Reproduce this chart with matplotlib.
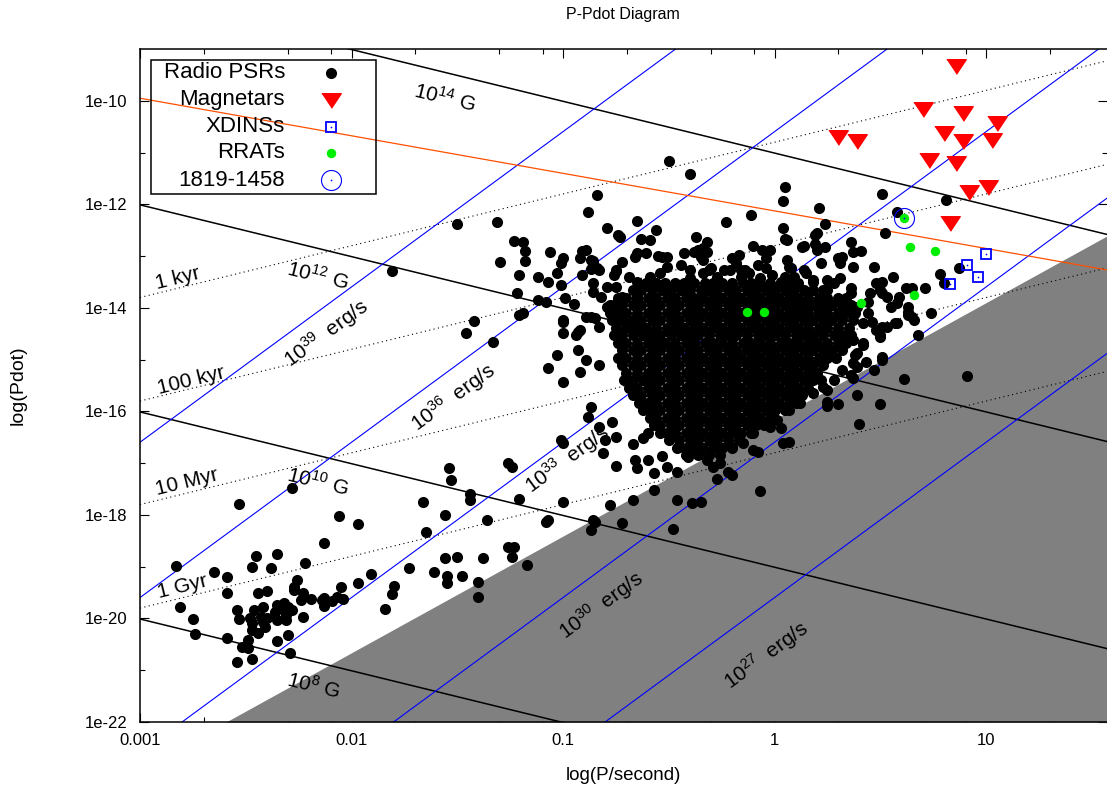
import numpy as np
import matplotlib
matplotlib.use("Agg")
import matplotlib.pyplot as plt
from matplotlib.ticker import FixedLocator, FixedFormatter, LogLocator, NullFormatter
from matplotlib.patches import Rectangle
from matplotlib.lines import Line2D

plt.rcParams['font.family'] = ['Liberation Sans', 'DejaVu Sans']
plt.rcParams['mathtext.fontset'] = 'custom'
plt.rcParams['mathtext.rm'] = 'Liberation Sans'
plt.rcParams['mathtext.it'] = 'Liberation Sans:italic'

# ---- axes range ----
P_MIN, P_MAX = 1e-3, 37.3
PDOT_MIN, PDOT_MAX = 1e-22, 1e-9

xtick_vals = [1e-3, 1e-2, 1e-1, 1, 10]
xtick_text = ['0.001', '0.01', '0.1', '1', '10']
ytick_vals = [1e-22, 1e-20, 1e-18, 1e-16, 1e-14, 1e-12, 1e-10]
ytick_text = ['1e-22', '1e-20', '1e-18', '1e-16', '1e-14', '1e-12', '1e-10']

# ---- reference lines ----
bfield_gauss = [1e8, 1e10, 1e12, 1e14]
bfield_text = [r'$10^{8}$ G', r'$10^{10}$ G', r'$10^{12}$ G', r'$10^{14}$ G']
bfield_lab_pos = [(-2.18, -21.29), (-2.16, -17.35), (-2.16, -13.37), (-1.56, -9.93)]

age_years = [1e3, 1e5, 1e7, 1e9]
age_text = ['1 kyr', '100 kyr', '10 Myr', '1 Gyr']
age_lab_pos = [(-2.82, -13.43), (-2.76, -15.40), (-2.78, -17.37), (-2.80, -19.38)]

edot_ergs = [1e27, 1e30, 1e33, 1e36, 1e39]
edot_text = [r'$10^{27}$  erg/s', r'$10^{30}$  erg/s', r'$10^{33}$  erg/s',
             r'$10^{36}$  erg/s', r'$10^{39}$  erg/s']
edot_lab_pos = [(-0.04, -20.71), (-0.82, -19.74), (-0.98, -16.92), (-1.52, -15.72), (-2.12, -14.49)]

orange_p = [1e-3, 37.3]
orange_pdot = [1.12e-10, 5.4e-14]

death_p = [2.55e-3, 37.3]
death_pdot = [1e-22, 2.45e-13]

# ---- sources (log10 P, log10 Pdot) ----
magnetars = [(0.86, -9.33), (0.70, -10.16), (0.89, -10.24), (1.05, -10.43), (0.80, -10.62),
             (0.89, -10.78), (1.03, -10.76), (0.30, -10.70), (0.39, -10.78), (0.73, -11.14),
             (0.86, -11.20), (0.92, -11.76), (1.01, -11.67), (0.83, -12.36)]
xdins = [(1.00, -12.96), (0.91, -13.17), (0.96, -13.41), (0.83, -13.54)]
rrats = [(0.61, -12.27), (0.64, -12.83), (0.76, -12.90), (0.66, -13.75), (0.41, -13.91),
         (-0.13, -14.08), (-0.05, -14.08)]
j1819 = (0.61, -12.27)

psr_sparse = [
    (-1.50, -12.38), (-1.31, -12.34), (-1.23, -12.71), (-1.30, -13.12), (-1.81, -13.29), (-1.21, -13.37),
    (-1.22, -13.72), (-0.50, -11.16), (-0.40, -11.42), (-0.84, -11.82), (-0.88, -12.15), (-0.79, -12.46),
    (-0.74, -12.59), (-0.73, -12.63), (-0.65, -12.32), (-0.63, -12.67), (-0.59, -12.69), (-0.56, -12.50),
    (-0.37, -12.63), (-0.32, -12.73), (0.05, -11.67), (0.04, -11.94), (-0.23, -12.34), (-0.11, -12.21),
    (0.21, -12.07), (0.24, -12.38), (0.04, -12.46), (0.06, -12.69), (0.51, -11.80), (0.58, -12.15),
    (0.52, -12.56), (0.81, -11.92), (0.20, -12.56), (0.19, -12.77), (0.24, -12.83), (0.14, -12.81),
    (0.36, -12.73), (0.37, -12.92), (0.41, -12.90), (-0.10, -12.81), (-0.06, -12.88), (-0.02, -12.88),
    (-0.04, -13.04), (-1.19, -12.73), (-1.18, -12.90), (-1.18, -13.10), (-1.06, -12.92), (-0.91, -12.90),
    (-0.89, -12.88), (-0.92, -13.04), (-0.86, -13.10), (-1.00, -13.04), (-1.01, -13.14), (-1.03, -13.33),
    (-1.12, -13.41), (-1.07, -13.50), (-1.01, -13.56), (-0.87, -13.25), (-0.83, -13.27), (-0.75, -13.27),
    (-0.72, -13.12), (-0.66, -13.02), (-0.61, -12.94), (-0.53, -13.02), (-0.43, -12.94), (-0.38, -12.92),
    (-0.34, -12.85), (-0.35, -13.02), (-0.31, -13.27), (-0.20, -13.04), (-0.16, -13.27), (-0.24, -13.27),
    (0.07, -13.21), (0.14, -13.27), (0.18, -13.46), (0.22, -13.14), (0.31, -13.08), (0.37, -13.21),
    (0.47, -13.21), (0.56, -13.41), (0.31, -13.43), (0.25, -13.46), (0.48, -13.52), (0.51, -13.72),
    (0.05, -12.67), (0.13, -12.83), (0.19, -12.59), (0.20, -12.88), (0.06, -13.08), (0.15, -13.33),
    (0.30, -13.04), (0.32, -13.02), (0.31, -13.14), (0.18, -13.50), (0.05, -13.41), (0.09, -13.60),
    (0.25, -13.66), (0.28, -13.52), (0.36, -13.62), (0.51, -13.50), (0.50, -13.66), (0.53, -13.79),
    (0.45, -13.72), (0.44, -13.89), (0.59, -13.79), (0.62, -13.62), (0.65, -13.62), (0.71, -13.62),
    (0.58, -13.91), (0.55, -13.99), (0.63, -13.99), (0.78, -13.35), (0.80, -13.52), (0.87, -13.23),
    (0.36, -13.72), (0.39, -13.99), (0.44, -14.10), (0.46, -14.28), (0.53, -14.37), (0.58, -14.29),
    (0.63, -14.08), (0.65, -14.18), (0.74, -14.10), (0.68, -14.53), (0.50, -14.53), (0.32, -14.10),
    (0.20, -13.99), (0.12, -13.99), (0.51, -14.37), (0.51, -14.95), (0.66, -14.24), (0.51, -15.01),
    (0.47, -15.20), (0.43, -15.05), (0.39, -15.15), (0.37, -15.36), (0.61, -15.38), (0.91, -15.32),
    (0.39, -15.69), (0.50, -15.86), (0.40, -16.25), (0.48, -14.43), (0.50, -14.57), (0.42, -14.29),
    (0.42, -14.72), (0.37, -14.62), (0.38, -14.91), (0.25, -15.82), (0.30, -15.86), (0.25, -15.90),
    (0.36, -15.30), (0.39, -14.87), (0.57, -14.29), (0.63, -14.14), (0.49, -14.43), (0.42, -14.68),
    (0.25, -15.59), (0.22, -15.40), (0.03, -16.32), (0.07, -16.59), (0.04, -16.61), (-0.08, -16.79),
    (-0.10, -16.75), (-0.07, -17.54), (-0.20, -17.23), (-0.22, -17.17), (-0.27, -17.31), (-0.26, -17.00),
    (-0.29, -17.08), (-0.35, -17.75), (-0.39, -17.77), (-0.46, -17.72), (-0.48, -18.28), (-0.46, -17.17),
    (-0.57, -17.52), (-0.67, -17.72), (-0.72, -18.16), (-0.78, -17.81), (-0.86, -18.10), (-0.87, -18.30),
    (-1.00, -17.75), (-1.07, -18.10), (-1.21, -17.70), (-1.36, -18.10), (-1.26, -17.00), (-1.24, -17.08),
    (-0.75, -17.06), (-0.66, -16.94), (-0.65, -17.10), (-0.60, -16.94), (-0.57, -17.19), (-0.53, -16.87),
    (-0.51, -17.08), (-0.67, -16.63), (-0.62, -16.52), (-0.60, -16.42), (-0.75, -16.50), (-0.80, -16.56),
    (-0.81, -16.81), (-0.83, -16.30), (-0.77, -16.21), (-0.87, -15.92), (-0.88, -16.11), (-1.00, -16.61),
    (-1.01, -16.56), (-1.00, -15.44), (-1.07, -15.16), (-1.03, -14.91), (-0.92, -15.24), (-0.89, -15.01),
    (-0.83, -15.11), (-0.93, -14.82), (-0.94, -14.53), (-1.00, -14.49), (-1.00, -14.28), (-0.92, -14.43),
    (-0.89, -14.18), (-0.85, -14.20), (-0.83, -14.37), (-0.79, -13.99), (-1.19, -14.10), (-1.33, -14.66),
    (-1.08, -13.89), (-1.12, -13.85), (-1.46, -14.49), (-1.42, -14.26), (-1.21, -14.14), (-1.54, -17.10),
    (-1.53, -17.33), (-1.44, -17.60), (-1.44, -17.72), (-1.66, -17.75), (-1.56, -18.01), (-1.65, -18.33),
    (-2.53, -17.79), (-2.28, -17.48), (-2.06, -18.02), (-1.97, -18.18), (-2.13, -18.55), (-2.45, -18.80),
    (-2.35, -18.76), (-1.56, -18.84), (-1.50, -18.82), (-1.38, -18.84), (-1.26, -18.62), (-1.23, -18.62),
    (-1.24, -18.82), (-2.83, -18.99), (-2.81, -19.78), (-2.75, -20.01), (-2.74, -20.30), (-2.65, -19.11),
    (-2.59, -19.20), (-2.59, -19.51), (-2.47, -19.01), (-2.38, -19.03), (-2.22, -18.93), (-2.26, -19.26),
    (-2.27, -19.40), (-2.23, -19.51), (-2.24, -19.65), (-2.19, -19.63), (-2.14, -19.65), (-2.13, -19.76),
    (-2.09, -19.67), (-2.07, -19.59), (-2.05, -19.40), (-2.04, -19.63), (-1.97, -19.32), (-1.91, -19.15),
    (-1.73, -19.03), (-1.61, -19.11), (-1.55, -19.18), (-1.55, -19.32), (-1.48, -19.18), (-1.40, -19.30),
    (-1.40, -19.59), (-1.84, -19.82), (-1.81, -19.53), (-1.80, -19.38), (-1.17, -18.97), (-1.08, -18.14),
    (-0.85, -18.14), (-2.44, -19.51), (-2.40, -19.47), (-2.54, -19.84), (-2.53, -20.01), (-2.46, -19.84),
    (-2.43, -19.98), (-2.47, -20.09), (-2.47, -20.23), (-2.44, -20.29), (-2.41, -20.17), (-2.40, -20.00),
    (-2.36, -19.88), (-2.35, -19.74), (-2.32, -19.71), (-2.30, -19.78), (-2.28, -19.84), (-2.31, -19.94),
    (-2.35, -20.03), (-2.31, -20.03), (-2.23, -19.98), (-2.30, -20.32), (-2.35, -20.44), (-2.29, -20.67),
    (-2.49, -20.42), (-2.49, -20.58), (-2.52, -20.56), (-2.59, -20.38), (-2.47, -20.79), (-2.54, -20.85),
    (-2.13, -19.61), (-2.27, -19.45), (-2.42, -19.78), (-2.48, -19.99), (-2.42, -20.07), (-2.32, -19.84),
    (-0.45, -16.69), (-0.41, -16.88), (-0.37, -16.81), (-0.32, -16.94), (-0.20, -16.69), (-0.15, -16.61),
    (-0.10, -16.42), (-0.02, -16.30), (0.01, -16.17), (0.07, -15.98), (0.12, -15.84), (0.18, -15.65),
    (0.23, -15.53), (0.28, -15.40), (0.32, -15.20), (0.37, -15.07), (-0.84, -13.23), (-0.75, -13.29),
    (-0.65, -12.94), (-0.55, -13.00), (-0.51, -13.02), (-0.36, -12.88), (-0.32, -12.92), (-0.34, -13.08),
    (-0.17, -12.98), (-0.18, -13.14), (-0.14, -13.27), (-0.08, -13.17), (-0.04, -13.23), (0.08, -13.23),
    (-0.99, -13.81), (-0.95, -13.93), (-0.86, -13.70), (-0.86, -13.52), (-0.79, -13.60), (-0.75, -13.60),
    (-0.82, -13.79), (-0.78, -13.95), (-0.72, -13.79), (-0.65, -13.79), (-1.00, -14.24), (-0.93, -14.47),
    (-0.87, -14.18), (-0.76, -14.24), (-0.75, -14.53), (-0.70, -14.29), (-0.66, -14.37), (-0.87, -13.08),
    (-0.91, -13.37), (-0.76, -13.37), (-0.69, -13.41), (-0.65, -13.50), (-0.59, -13.41), (-0.54, -13.33),
    (-0.51, -13.21), (-0.44, -13.17), (-0.40, -13.27), (-0.40, -13.43), (-0.34, -13.33), (-0.30, -13.23),
    (-0.27, -13.41), (-0.21, -13.27), (-0.16, -13.41), (-0.12, -13.33), (-0.07, -13.43), (-0.01, -13.37),
    (0.03, -13.50), (0.09, -13.41),
]

# dense core of the radio pulsar population, row by row: (log Pdot, [log P, ...])
psr_core = [
    (-13.52, [-0.61, -0.56, -0.52, -0.47, -0.43, -0.38, -0.33, -0.29, -0.25, -0.20, -0.15, -0.11, -0.07,
              -0.02, 0.03, 0.07, 0.11]),
    (-13.66, [-0.67, -0.63, -0.58, -0.53, -0.49, -0.44, -0.40, -0.35, -0.31, -0.27, -0.22, -0.18, -0.13,
              -0.09, -0.04, 0.00, 0.05, 0.09, 0.14, 0.18, 0.23]),
    (-13.81, [-0.74, -0.70, -0.65, -0.60, -0.56, -0.51, -0.47, -0.42, -0.38, -0.34, -0.29, -0.25, -0.20,
              -0.16, -0.11, -0.07, -0.02, 0.02, 0.07, 0.11, 0.16, 0.21, 0.25, 0.30, 0.34]),
    (-13.95, [-0.76, -0.72, -0.67, -0.63, -0.58, -0.54, -0.49, -0.45, -0.40, -0.36, -0.31, -0.27, -0.22,
              -0.18, -0.13, -0.09, -0.04, 0.00, 0.05, 0.09, 0.14, 0.18, 0.23, 0.27, 0.32, 0.36]),
    (-14.10, [-0.78, -0.74, -0.70, -0.65, -0.60, -0.56, -0.51, -0.47, -0.42, -0.38, -0.34, -0.29, -0.25,
              -0.20, -0.16, -0.11, -0.07, -0.02, 0.02, 0.07, 0.11, 0.16, 0.21, 0.25, 0.30, 0.34, 0.38]),
    (-14.24, [-0.77, -0.72, -0.67, -0.63, -0.58, -0.54, -0.49, -0.45, -0.40, -0.36, -0.31, -0.27, -0.22,
              -0.18, -0.13, -0.09, -0.04, 0.00, 0.05, 0.09, 0.14, 0.18, 0.23, 0.27, 0.32, 0.37]),
    (-14.39, [-0.75, -0.70, -0.65, -0.61, -0.56, -0.51, -0.47, -0.43, -0.38, -0.34, -0.29, -0.25, -0.20,
              -0.16, -0.11, -0.07, -0.02, 0.02, 0.07, 0.11, 0.16, 0.21, 0.25, 0.30, 0.35]),
    (-14.53, [-0.76, -0.72, -0.67, -0.62, -0.58, -0.54, -0.49, -0.44, -0.40, -0.36, -0.31, -0.26, -0.22,
              -0.18, -0.13, -0.08, -0.04, 0.00, 0.05, 0.10, 0.14, 0.18, 0.23, 0.28, 0.32, 0.36]),
    (-14.68, [-0.74, -0.70, -0.65, -0.60, -0.56, -0.52, -0.47, -0.42, -0.38, -0.33, -0.29, -0.25, -0.20,
              -0.15, -0.11, -0.07, -0.02, 0.03, 0.07, 0.11, 0.16, 0.20, 0.25, 0.30, 0.34]),
    (-14.82, [-0.72, -0.67, -0.63, -0.58, -0.54, -0.49, -0.45, -0.40, -0.36, -0.31, -0.27, -0.22, -0.18,
              -0.13, -0.09, -0.04, 0.00, 0.05, 0.09, 0.14, 0.18, 0.23, 0.27, 0.32]),
    (-14.97, [-0.74, -0.70, -0.65, -0.60, -0.56, -0.51, -0.47, -0.42, -0.38, -0.34, -0.29, -0.25, -0.20,
              -0.16, -0.11, -0.07, -0.02, 0.02, 0.07, 0.11, 0.16, 0.21, 0.25, 0.29]),
    (-15.11, [-0.72, -0.67, -0.63, -0.58, -0.54, -0.49, -0.45, -0.40, -0.36, -0.31, -0.27, -0.22, -0.18,
              -0.13, -0.09, -0.04, 0.00, 0.05, 0.09, 0.14, 0.18, 0.23]),
    (-15.26, [-0.70, -0.65, -0.60, -0.56, -0.51, -0.47, -0.42, -0.38, -0.34, -0.29, -0.25, -0.20, -0.16,
              -0.11, -0.07, -0.02, 0.02, 0.07, 0.11, 0.16, 0.20]),
    (-15.40, [-0.71, -0.67, -0.62, -0.58, -0.54, -0.49, -0.45, -0.40, -0.36, -0.31, -0.27, -0.22, -0.18,
              -0.13, -0.09, -0.04, 0.00, 0.05, 0.09, 0.14, 0.18]),
    (-15.55, [-0.69, -0.65, -0.60, -0.56, -0.51, -0.47, -0.42, -0.38, -0.34, -0.29, -0.25, -0.20, -0.16,
              -0.11, -0.07, -0.02, 0.02, 0.07, 0.11, 0.16]),
    (-15.69, [-0.67, -0.63, -0.58, -0.54, -0.49, -0.45, -0.40, -0.36, -0.31, -0.27, -0.22, -0.18, -0.13,
              -0.09, -0.04, 0.00, 0.05, 0.09, 0.13]),
    (-15.84, [-0.64, -0.60, -0.56, -0.51, -0.47, -0.42, -0.38, -0.34, -0.29, -0.25, -0.20, -0.16, -0.11,
              -0.07, -0.02, 0.02, 0.07, 0.10]),
    (-15.98, [-0.62, -0.58, -0.54, -0.49, -0.45, -0.40, -0.36, -0.31, -0.27, -0.22, -0.18, -0.13, -0.09,
              -0.04, 0.00, 0.05]),
    (-16.13, [-0.59, -0.56, -0.51, -0.47, -0.42, -0.38, -0.34, -0.29, -0.25, -0.20, -0.16, -0.11, -0.07,
              -0.02]),
    (-16.27, [-0.57, -0.54, -0.49, -0.45, -0.40, -0.36, -0.31, -0.27, -0.22, -0.18, -0.13, -0.09, -0.05]),
    (-16.42, [-0.54, -0.51, -0.47, -0.42, -0.38, -0.34, -0.29, -0.25, -0.20, -0.16, -0.11]),
    (-16.56, [-0.50, -0.45, -0.40, -0.36, -0.31, -0.27, -0.22, -0.17]),
    (-16.71, [-0.46, -0.42, -0.38, -0.34, -0.29, -0.25, -0.20]),
    (-16.85, [-0.42, -0.36, -0.31, -0.26]),
]

legend_labels = ['Radio PSRs', 'Magnetars', 'XDINSs', 'RRATs', '1819-1458']

BLUE = '#0000ff'
GREEN = '#00ee00'
RED = '#ff0000'
ORANGE = '#ff4f00'


def unlog(pairs):
    arr = np.array(pairs, dtype=float)
    return 10 ** arr[:, 0], 10 ** arr[:, 1]


fig = plt.figure(figsize=(11.07, 7.94), dpi=100)
ax = fig.add_axes([140 / 1107, 72 / 794, 967 / 1107, 673 / 794])
ax.set_xscale('log')
ax.set_yscale('log')
ax.set_xlim(P_MIN, P_MAX)
ax.set_ylim(PDOT_MIN, PDOT_MAX)


def screen_angle(k):
    # on-screen angle of a straight line Pdot ~ P**k in this log-log frame
    a = ax.transData.transform((1e-2, 1e-15))
    b = ax.transData.transform((1e-1, 1e-15 * 10.0 ** k))
    return np.degrees(np.arctan2(b[1] - a[1], b[0] - a[0]))


p_line = np.array([P_MIN, P_MAX])

# death valley
ax.fill_between(death_p, death_pdot, PDOT_MIN, color='#808080', lw=0, zorder=2.6)

for b in bfield_gauss:
    ax.plot(p_line, (b / 3.2e19) ** 2 / p_line, color='k', lw=1.1, zorder=3)
for t in age_years:
    ax.plot(p_line, p_line / (2 * t * 3.156e7), color='k', lw=0.8, ls=(0, (1, 3)), zorder=3)
for e in edot_ergs:
    ax.plot(p_line, e * p_line ** 3 / (4 * np.pi ** 2 * 1e45), color=BLUE, lw=0.8, zorder=3)
ax.plot(orange_p, orange_pdot, color=ORANGE, lw=0.9, zorder=3)

# line labels
ang_b, ang_age, ang_e = screen_angle(-1), screen_angle(1), screen_angle(3)
for txt, (lp, lpd) in zip(bfield_text, bfield_lab_pos):
    ax.text(10 ** lp, 10 ** lpd, txt, rotation=ang_b, rotation_mode='anchor',
            ha='center', va='center', fontsize=15, zorder=6)
for txt, (lp, lpd) in zip(age_text, age_lab_pos):
    ax.text(10 ** lp, 10 ** lpd, txt, rotation=ang_age, rotation_mode='anchor',
            ha='center', va='center', fontsize=15, zorder=6)
for txt, (lp, lpd) in zip(edot_text, edot_lab_pos):
    ax.text(10 ** lp, 10 ** lpd, txt, rotation=ang_e, rotation_mode='anchor',
            ha='center', va='center', fontsize=15, zorder=6)

# radio pulsars
core_pairs = [(lp, row_pd) for row_pd, lps in psr_core for lp in lps]
px, py = unlog(psr_sparse + core_pairs)
ax.scatter(px, py, s=64, c='k', linewidths=0, zorder=4)

tri = [(-1, 0.7), (1, 0.7), (0, -0.8)]
mx, my = unlog(magnetars)
ax.plot(mx, my, ls='none', marker=tri, ms=14, mfc=RED, mec=RED, zorder=5)

xx, xy = unlog(xdins)
ax.plot(xx, xy, ls='none', marker='s', ms=7.4, mfc='none', mec=BLUE, mew=1.3, zorder=5)
ax.plot(xx, xy, ls='none', marker='o', ms=1.2, mfc=BLUE, mec=BLUE, mew=0, zorder=5)

rx, ry = unlog(rrats)
ax.scatter(rx, ry, s=46, c=GREEN, linewidths=0, zorder=5)

ax.plot([10 ** j1819[0]], [10 ** j1819[1]], ls='none', marker='o', ms=14.4, mfc='none',
        mec=BLUE, mew=0.8, zorder=6)
ax.plot([10 ** j1819[0]], [10 ** j1819[1]], ls='none', marker='o', ms=1.2, mfc=BLUE,
        mec=BLUE, mew=0, zorder=6)

# ticks and frame
ax.xaxis.set_major_locator(FixedLocator(xtick_vals))
ax.xaxis.set_major_formatter(FixedFormatter(xtick_text))
ax.xaxis.set_minor_locator(LogLocator(base=10, subs=(2, 5, 8), numticks=20))
ax.xaxis.set_minor_formatter(NullFormatter())
ax.yaxis.set_major_locator(FixedLocator(ytick_vals))
ax.yaxis.set_major_formatter(FixedFormatter(ytick_text))
ax.yaxis.set_minor_locator(FixedLocator([1e-21, 1e-19, 1e-17, 1e-15, 1e-13, 1e-11]))
ax.yaxis.set_minor_formatter(NullFormatter())
ax.tick_params(which='both', direction='in', top=True, right=True, width=0.8, labelsize=12)
ax.tick_params(which='major', length=6.5)
ax.tick_params(which='minor', length=3.5)
ax.tick_params(axis='x', pad=8)
ax.tick_params(axis='y', pad=9)
for side in ['left', 'top', 'bottom']:
    ax.spines[side].set_linewidth(1.1)
    ax.spines[side].set_zorder(7)
ax.spines['right'].set_visible(False)


# text placed in figure pixels (measured from top-left)
def fpx(x, y):
    return x / 1107, 1 - y / 794


fig.text(*fpx(623, 15), 'P-Pdot Diagram', ha='center', va='center', fontsize=11.5)
fig.text(*fpx(623, 775), 'log(P/second)', ha='center', va='center', fontsize=13.5)
fig.text(*fpx(18, 385), 'log(Pdot)', ha='center', va='center', fontsize=14, rotation=90)

# legend, gnuplot style: label right-aligned, symbol to the right
x0, y0 = fpx(151, 194)
x1, y1 = fpx(376, 60)
fig.add_artist(Rectangle((x0, y0), x1 - x0, y1 - y0, transform=fig.transFigure,
                         fill=False, ec='k', lw=1.1, zorder=8))
row_y = [73, 100, 127, 153, 180]
styles = [dict(marker='o', ms=8.0, mfc='k', mec='k', mew=0),
          dict(marker=tri, ms=14, mfc=RED, mec=RED),
          dict(marker='s', ms=7.4, mfc='none', mec=BLUE, mew=1.3),
          dict(marker='o', ms=6.8, mfc=GREEN, mec=GREEN, mew=0),
          dict(marker='o', ms=14.4, mfc='none', mec=BLUE, mew=0.8)]
for lab, yy, st in zip(legend_labels, row_y, styles):
    tx, ty = fpx(285, yy)
    fig.text(tx, ty, lab, ha='right', va='center', fontsize=16, zorder=9)
    mxp, myp = fpx(331, yy)
    fig.add_artist(Line2D([mxp], [myp], ls='none', transform=fig.transFigure, zorder=9, **st))
    if lab in ('XDINSs', '1819-1458'):
        fig.add_artist(Line2D([mxp], [myp], ls='none', marker='o', ms=1.2, mfc=BLUE, mec=BLUE,
                              mew=0, transform=fig.transFigure, zorder=9))

fig.savefig('out.png', dpi=100)
